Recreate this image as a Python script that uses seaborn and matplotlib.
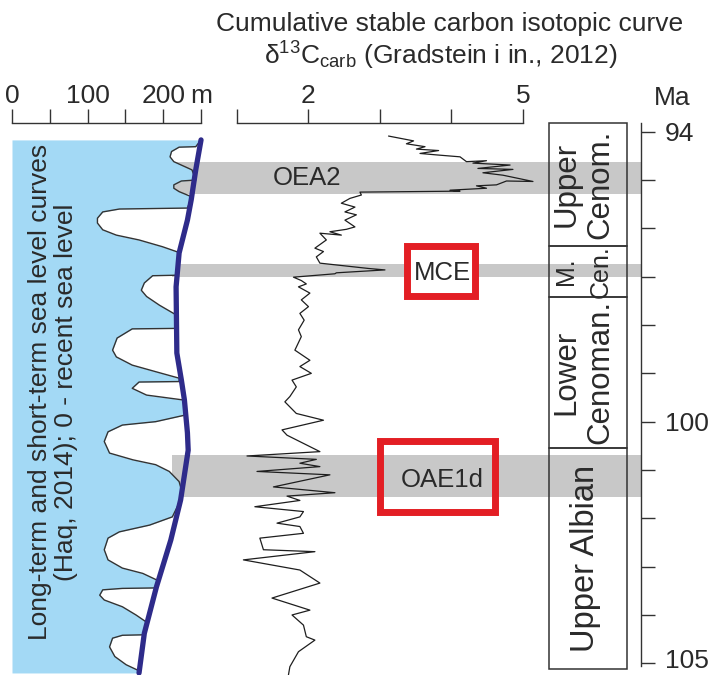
import matplotlib
matplotlib.use("Agg")
import matplotlib.pyplot as plt
import seaborn as sns
from matplotlib.patches import Rectangle
from matplotlib.transforms import ScaledTranslation

# ---------------- data ----------------
# cumulative d13C carb curve (age Ma, permil)
c_age = [94.09, 94.19, 94.25, 94.31, 94.36, 94.39, 94.45, 94.48, 94.52, 94.62,
         94.60, 94.65, 94.69, 94.76, 94.78, 94.85, 94.90, 95.03, 95.02, 95.10,
         95.12, 95.17, 95.21, 95.23, 95.25, 95.31, 95.38, 95.48, 95.56, 95.66,
         95.72, 95.83, 95.97, 96.02, 96.07, 96.14, 96.10, 96.24, 96.41, 96.48,
         96.59, 96.72, 96.83, 96.86, 96.92, 96.94, 97.01, 97.08, 97.15, 97.21,
         97.34, 97.48, 97.62, 97.76, 97.90, 98.10, 98.24, 98.52, 98.73, 98.86,
         99.00, 99.14, 99.28, 99.48, 99.59, 99.83, 99.97, 100.17, 100.28, 100.62,
         100.71, 100.78, 100.86, 100.93, 101.03, 101.10, 101.35, 101.47, 101.54, 101.63,
         101.76, 101.86, 101.97, 102.10, 102.17, 102.31, 102.41, 102.65, 102.69, 102.86,
         103.07, 103.34, 103.65, 103.90, 104.00, 104.21, 104.45, 104.52, 104.76, 105.07,
         105.24]
c_d13c = [3.12, 3.47, 3.37, 3.63, 3.51, 3.82, 3.56, 3.79, 4.12, 4.21,
          4.49, 4.30, 4.82, 4.37, 4.86, 4.44, 4.72, 5.14, 4.77, 4.63,
          4.35, 4.49, 3.98, 4.12, 2.72, 2.74, 2.58, 2.46, 2.65, 2.51,
          2.67, 2.51, 2.65, 2.53, 2.30, 2.46, 2.16, 2.25, 2.09, 2.21,
          2.11, 2.16, 2.84, 3.07, 2.39, 2.37, 1.79, 1.90, 1.97, 1.86,
          2.02, 1.90, 2.00, 1.88, 1.94, 1.86, 1.90, 1.81, 2.02, 1.88,
          2.04, 1.77, 1.83, 1.74, 1.67, 1.83, 2.21, 1.63, 1.70, 2.16,
          1.14, 2.11, 1.88, 2.16, 1.28, 2.30, 1.51, 2.37, 1.70, 1.88,
          1.25, 1.93, 1.88, 1.56, 1.88, 1.93, 1.32, 1.37, 2.09, 1.09,
          1.88, 2.16, 1.49, 2.02, 1.77, 1.93, 1.97, 2.09, 1.86, 1.74,
          1.72]

# short-term sea level (Haq, 2014): age Ma, metres above recent sea level
sl_age = [94.17,
          94.31, 94.32, 94.41, 94.52, 94.62, 94.79,
          95.00, 95.02, 95.10, 95.17, 95.24, 95.35,
          95.58, 95.60, 95.66, 95.79, 95.89, 96.03, 96.14, 96.24, 96.38, 96.50,
          96.97, 96.98, 97.13, 97.28, 97.41, 97.59, 97.79,
          98.07, 98.08, 98.27, 98.52, 98.66, 98.83, 98.97, 99.10,
          99.17, 99.18, 99.31, 99.45, 99.55,
          99.86, 100.00, 100.07, 100.21, 100.41, 100.65, 100.79, 100.89, 101.03, 101.24, 101.41,
          101.62,
          101.97, 102.14, 102.28, 102.41, 102.65, 102.86, 103.03, 103.14, 103.28,
          103.44, 103.45, 103.48, 103.59, 103.69, 103.83, 104.00, 104.16,
          104.41, 104.42, 104.48, 104.66, 104.86, 105.03, 105.14,
          105.20]
sl_short_m = [250,
              243, 221, 211, 209, 214, 238,
              243, 224, 214, 214, 221, 238,
              232, 142, 120, 113, 113, 120, 138, 168, 199, 221,
              217, 186, 175, 171, 178, 195, 217,
              218, 159, 139, 133, 138, 159, 191, 221,
              221, 168, 159, 178, 226,
              230, 190, 146, 127, 122, 129, 160, 190, 208, 221, 224,
              223,
              212, 182, 142, 127, 122, 127, 146, 173, 192,
              191, 146, 120, 116, 122, 146, 164, 179,
              175, 146, 133, 129, 136, 151, 166,
              168]

# long-term sea level
lt_age = [94.17, 94.79, 95.41, 95.83, 96.51, 97.21, 98.58, 99.14, 99.55,
          100.23, 100.59, 101.62, 102.45, 103.42, 104.38, 105.20]
lt_m = [250, 243, 237, 232, 221, 217, 218, 224, 228,
        232, 233, 223, 210, 191, 175, 168]

# anoxic / carbon isotope events
event_names = ["OEA2", "MCE", "OAE1d"]
event_top = [94.63, 96.74, 100.69]
event_base = [95.29, 97.01, 101.56]

# stages
stage_line1 = ["Upper", "M.", "Lower", "Upper Albian"]
stage_line2 = ["Cenom.", "Cen.", "Cenoman.", ""]
stage_top = [93.82, 96.37, 97.42, 100.54]
stage_base = [96.37, 97.42, 100.54, 105.12]

# ticks
age_ticks = [94, 95, 96, 97, 98, 99, 100, 101, 102, 103, 104, 105]
age_tick_labels = ["94", "", "", "", "", "", "100", "", "", "", "", "105"]
sl_ticks = [0, 50, 100, 150, 200, 250]
sl_tick_labels = ["0", "", "100", "", "200", "m"]
c_ticks = [1, 2, 3, 4, 5]
c_tick_labels = ["", "2", "", "", "5"]

# ---------------- style ----------------
sns.set_theme(style="white")
plt.rcParams["font.family"] = ["Liberation Sans", "DejaVu Sans"]
plt.rcParams["mathtext.fontset"] = "custom"
plt.rcParams["mathtext.rm"] = "Liberation Sans"
plt.rcParams["mathtext.it"] = "Liberation Sans:italic"
plt.rcParams["mathtext.bf"] = "Liberation Sans:bold"

TXT = "#2a2a2a"
BLUE = "#A3D9F5"
NAVY = "#2E2B8A"
GREY = "#C8C8C8"
RED = "#E31E24"
FS = 19

W, H = 709, 675
fig = plt.figure(figsize=(W / 100, H / 100), dpi=100)
fig.patch.set_facecolor("white")

top_px = 123
hfrac = (H - top_px) / H
ylim = (105.242, 93.82)


def axes_at(left_px, width_px):
    ax = fig.add_axes([left_px / W, 0, width_px / W, hfrac])
    ax.set_facecolor("none")
    ax.set_ylim(*ylim)
    return ax


# background bands
ax_bg = axes_at(0, W)
ax_bg.set_xlim(0, 1)
ax_bg.axis("off")
for t, b in zip(event_top, event_base):
    ax_bg.axhspan(t, b, xmin=172 / W, xmax=641 / W, color=GREY, lw=0, zorder=1)

# sea level panel
ax_sl = axes_at(12, 196.6)
ax_sl.set_xlim(0, 260)
ax_sl.fill_betweenx(sl_age, 0, sl_short_m, color=BLUE, lw=0, zorder=1)
sns.lineplot(x=sl_short_m, y=sl_age, sort=False, estimator=None, ax=ax_sl,
             color="#333333", lw=1.0, zorder=2)
sns.lineplot(x=lt_m, y=lt_age, sort=False, estimator=None, ax=ax_sl,
             color=NAVY, lw=3.8, zorder=3)
ax_sl.set_ylim(*ylim)
ax_sl.set_xlim(0, 260)

# carbon panel
ax_c = axes_at(233.4, 311)
ax_c.set_xlim(0.95, 5.3)
sns.lineplot(x=c_d13c, y=c_age, sort=False, estimator=None, ax=ax_c,
             color="#1e1e1e", lw=0.9, zorder=3)
ax_c.set_ylim(*ylim)
ax_c.set_xlim(0.95, 5.3)

# event boxes and labels (layout)
ax_c.add_patch(Rectangle((3.385, 96.375), 4.336 - 3.385, 97.41 - 96.375,
                         fc="white", ec=RED, lw=5, zorder=2, joinstyle="miter"))
ax_c.add_patch(Rectangle((3.007, 100.41), 4.615 - 3.007, 101.86 - 100.41,
                         fc="none", ec=RED, lw=5, zorder=2, joinstyle="miter"))
label_pos = {"OEA2": (1.98, 94.96), "MCE": (3.88, 96.92), "OAE1d": (3.87, 101.21)}
for name in event_names:
    x, y = label_pos[name]
    ax_c.text(x, y, name, ha="center", va="center", fontsize=18.5, color=TXT, zorder=4)

# top scales
for ax, ticks, labels, bounds in [(ax_sl, sl_ticks, sl_tick_labels, (0, 250)),
                                  (ax_c, c_ticks, c_tick_labels, (1, 5))]:
    for s in ["left", "right", "bottom"]:
        ax.spines[s].set_visible(False)
    ax.spines["top"].set_visible(True)
    ax.spines["top"].set_bounds(*bounds)
    ax.spines["top"].set_color("#333333")
    ax.spines["top"].set_linewidth(1.0)
    ax.xaxis.tick_top()
    ax.set_xticks(ticks)
    ax.set_xticklabels(labels)
    ax.set_yticks([])
    ax.set_xlabel("")
    ax.set_ylabel("")
    ax.tick_params(axis="x", direction="out", length=10, width=1.0, color="#333333",
                   labelsize=FS, pad=1, labelcolor=TXT, top=True, bottom=False)

# stage column
ax_st = axes_at(549, 78)
ax_st.set_xlim(0, 1)
ax_st.axis("off")
for l1, l2, t, b in zip(stage_line1, stage_line2, stage_top, stage_base):
    ax_st.add_patch(Rectangle((0, t), 1, b - t, fc="none", ec="#333333", lw=1.1,
                              clip_on=False))
    mid = (t + b) / 2
    fs = 18 if l1 == "M." else 22.5
    if l2:
        ax_st.text(0.22, mid, l1, rotation=90, ha="center", va="center",
                   fontsize=fs, color=TXT)
        ax_st.text(0.66, mid, l2, rotation=90, ha="center", va="center",
                   fontsize=fs, color=TXT)
    else:
        ax_st.text(0.47, mid, l1, rotation=90, ha="center", va="center",
                   fontsize=23.5, color=TXT)

# age axis
ax_age = axes_at(641, 0.01)
for s in ["left", "top", "bottom"]:
    ax_age.spines[s].set_visible(False)
ax_age.spines["right"].set_visible(True)
ax_age.spines["right"].set_color("#333333")
ax_age.spines["right"].set_linewidth(1.0)
ax_age.spines["right"].set_bounds(93.82, 105.06)
ax_age.set_xticks([])
ax_age.yaxis.tick_right()
ax_age.set_yticks(age_ticks)
ax_age.set_yticklabels(age_tick_labels)
ax_age.tick_params(axis="y", direction="out", length=10, width=1.0, color="#333333",
                   labelsize=FS, pad=7, labelcolor=TXT)
last = ax_age.get_yticklabels()[-1]
last.set_transform(last.get_transform() + ScaledTranslation(0, 0.05, fig.dpi_scale_trans))

# texts
fig.text(672 / W, 1 - 98 / H, "Ma", ha="center", va="center", fontsize=FS, color=TXT)
fig.text(450 / W, 1 - 24 / H, "Cumulative stable carbon isotopic curve",
         ha="center", va="center", fontsize=FS, color=TXT)
fig.text(441 / W, 1 - 56 / H,
         r"$\mathrm{\delta^{13}C_{carb}}$ (Gradstein i in., 2012)",
         ha="center", va="center", fontsize=FS, color=TXT)
fig.text(53 / W, 1 - 392 / H,
         "Long-term and short-term sea level curves\n(Haq, 2014); 0 - recent sea level",
         rotation=90, ha="center", va="center", multialignment="center",
         fontsize=FS, color=TXT, linespacing=1.12)

fig.savefig("out.png", dpi=100)
